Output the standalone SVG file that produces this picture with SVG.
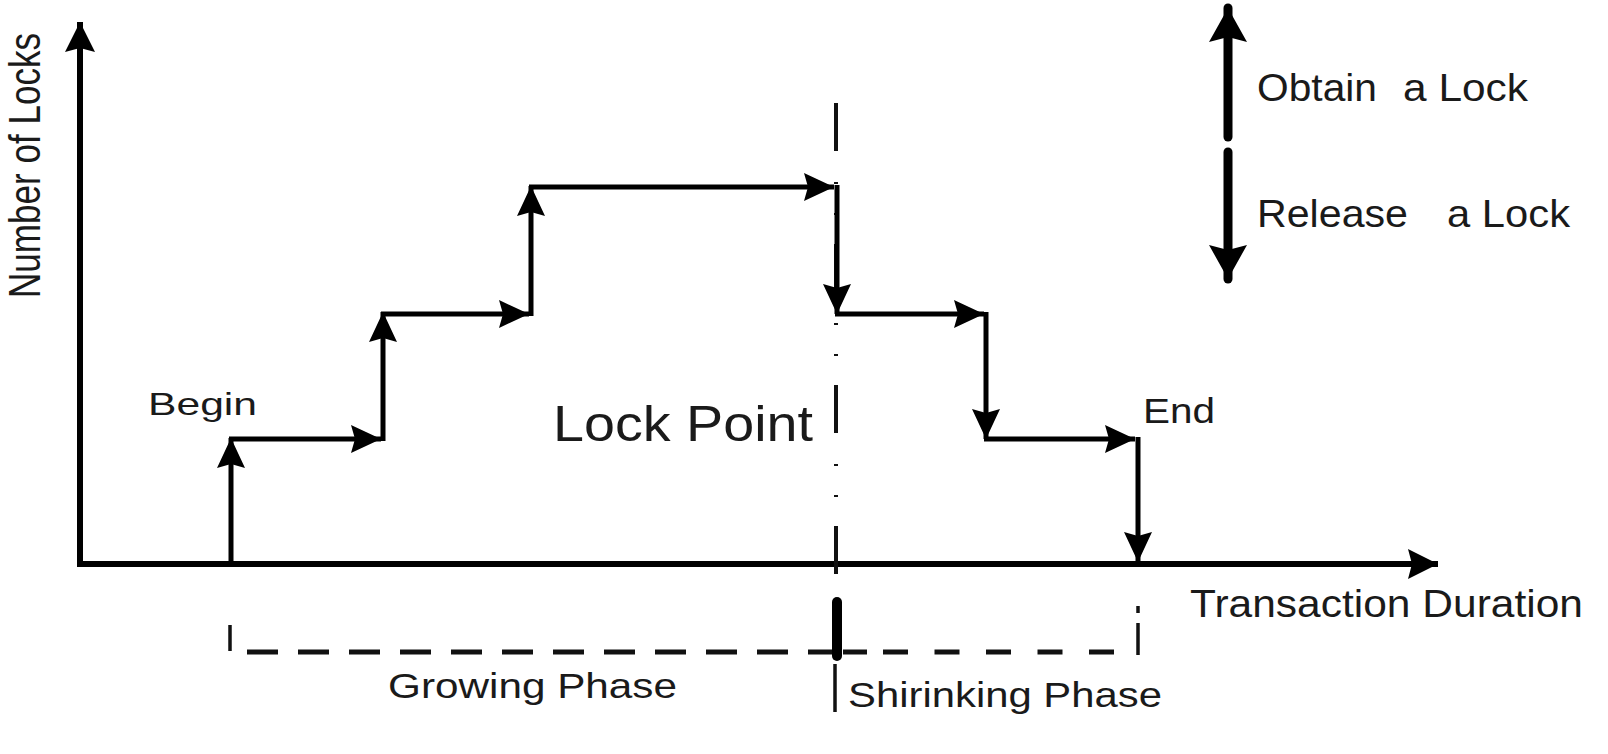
<svg xmlns="http://www.w3.org/2000/svg" width="1608" height="754" viewBox="0 0 1608 754">
<style>
  .ln{stroke:#000;stroke-width:5;fill:none;stroke-linecap:butt}
  .ax{stroke:#000;stroke-width:6;fill:none}
  .txt{font-family:"Liberation Sans",Arial,sans-serif;fill:#1a1a1a}
  .thin{stroke:#111;stroke-width:3.5;fill:none}
</style>
<defs>
  <marker id="ah" markerUnits="userSpaceOnUse" markerWidth="32" markerHeight="30" refX="30" refY="15" orient="auto">
    <path d="M0,1 L30,15 L0,29 L4,15 z" fill="#000"/>
  </marker>
  <marker id="axh" markerUnits="userSpaceOnUse" markerWidth="32" markerHeight="32" refX="30" refY="16" orient="auto">
    <path d="M0,1 L30,16 L0,31 L4,16 z" fill="#000"/>
  </marker>
  <marker id="lg" markerUnits="userSpaceOnUse" markerWidth="36" markerHeight="40" refX="34" refY="20" orient="auto">
    <path d="M0,1 L34,20 L0,39 L5,20 z" fill="#000"/>
  </marker>
</defs>
<rect width="1608" height="754" fill="#fff"/>

<g id="axes">
  <line class="ax" x1="80" y1="567" x2="80" y2="22" marker-end="url(#axh)"/>
  <line class="ax" x1="77" y1="564" x2="1438" y2="564" marker-end="url(#axh)"/>
  <text class="txt" font-size="35" textLength="265" lengthAdjust="spacingAndGlyphs" transform="translate(40,298) scale(1.28,1) rotate(-90)">Number of Locks</text>
  <text class="txt" x="1190" y="617" font-size="38" textLength="393" lengthAdjust="spacingAndGlyphs">Transaction Duration</text>
</g>

<g id="lockpoint-line">
  <line x1="836" y1="103" x2="836" y2="576" stroke="#111" stroke-width="4" stroke-dasharray="48 31 2 29 2 29"/>
</g>

<g id="connectors">
  <line class="ln" x1="231" y1="564" x2="231" y2="438" marker-end="url(#ah)"/>
  <line class="ln" x1="229" y1="439" x2="381" y2="439" marker-end="url(#ah)"/>
  <line class="ln" x1="383" y1="441" x2="383" y2="312" marker-end="url(#ah)"/>
  <line class="ln" x1="381" y1="314" x2="529" y2="314" marker-end="url(#ah)"/>
  <line class="ln" x1="531" y1="316" x2="531" y2="186" marker-end="url(#ah)"/>
  <line class="ln" x1="529" y1="187" x2="834" y2="187" stroke-width="4" marker-end="url(#ah)"/>
  <line class="ln" x1="837" y1="185" x2="837" y2="314" marker-end="url(#ah)"/>
  <line class="ln" x1="835" y1="314" x2="984" y2="314" marker-end="url(#ah)"/>
  <line class="ln" x1="986" y1="312" x2="986" y2="439" marker-end="url(#ah)"/>
  <line class="ln" x1="984" y1="439" x2="1135" y2="439" marker-end="url(#ah)"/>
  <line class="ln" x1="1138" y1="437" x2="1138" y2="562" marker-end="url(#ah)"/>
</g>

<g id="labels">
  <text class="txt" x="148" y="415" font-size="32" textLength="109" lengthAdjust="spacingAndGlyphs">Begin</text>
  <text class="txt" x="553" y="441" font-size="50" textLength="260" lengthAdjust="spacingAndGlyphs">Lock Point</text>
  <text class="txt" x="1143" y="423" font-size="35" textLength="72" lengthAdjust="spacingAndGlyphs">End</text>
</g>

<g id="phases">
  <line class="thin" x1="230" y1="625" x2="230" y2="651"/>
  <line x1="247" y1="652" x2="840" y2="652" stroke="#111" stroke-width="5" stroke-dasharray="31 20"/>
  <line x1="843" y1="652" x2="867" y2="652" stroke="#111" stroke-width="5"/>
  <line x1="883" y1="652" x2="1124" y2="652" stroke="#111" stroke-width="5" stroke-dasharray="25 26.5"/>
  <line x1="837" y1="602" x2="837" y2="656" stroke="#000" stroke-width="10" stroke-linecap="round"/>
  <line class="thin" x1="835" y1="664" x2="835" y2="712" stroke-width="4"/>
  <line class="thin" x1="1138" y1="606" x2="1138" y2="613" stroke-width="3"/>
  <line class="thin" x1="1138" y1="623" x2="1138" y2="655" stroke-width="3"/>
  <text class="txt" x="388" y="698" font-size="35" textLength="289" lengthAdjust="spacingAndGlyphs">Growing Phase</text>
  <text class="txt" x="848" y="707" font-size="35" textLength="314" lengthAdjust="spacingAndGlyphs">Shirinking Phase</text>
</g>

<g id="legend">
  <line x1="1228" y1="137" x2="1228" y2="8" stroke="#000" stroke-width="9" stroke-linecap="round" marker-end="url(#lg)"/>
  <line x1="1228" y1="152" x2="1228" y2="279" stroke="#000" stroke-width="9" stroke-linecap="round" marker-end="url(#lg)"/>
  <text class="txt" y="101" font-size="38"><tspan x="1257" textLength="120" lengthAdjust="spacingAndGlyphs">Obtain</tspan><tspan x="1403" textLength="125" lengthAdjust="spacingAndGlyphs">a Lock</tspan></text>
  <text class="txt" y="227" font-size="39"><tspan x="1257" textLength="151" lengthAdjust="spacingAndGlyphs">Release</tspan><tspan x="1447" textLength="123" lengthAdjust="spacingAndGlyphs">a Lock</tspan></text>
</g>
</svg>
